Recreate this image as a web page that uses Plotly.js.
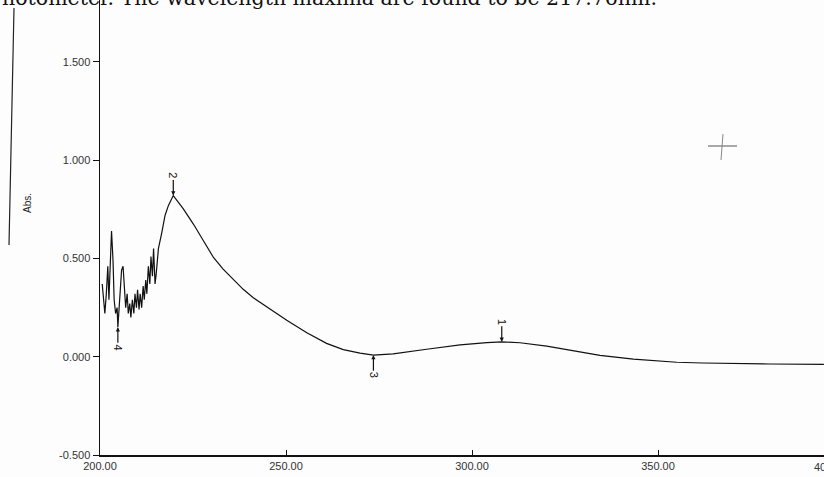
<!DOCTYPE html>
<html>
<head>
<meta charset="utf-8">
<script src="https://cdn.plot.ly/plotly-3.0.1.min.js"></script>
<style>html,body{margin:0;padding:0;background:#fdfdfd;overflow:hidden;}#chart{width:880px;height:477px;}</style>
</head>
<body>
<div id="chart"></div>
<script>
// Wavelength (nm)
const wavelength = [200.6, 201.0, 201.3, 201.7, 202.1, 202.4, 202.8, 203.1, 203.5, 203.8, 204.2, 204.6, 204.8, 205.1, 205.5, 205.8, 206.2, 206.5, 206.9, 207.3, 207.6, 208.0, 208.3, 208.7, 209.1, 209.4, 209.8, 210.1, 210.5, 210.8, 211.2, 211.6, 211.9, 212.3, 212.6, 213.0, 213.4, 213.7, 214.1, 214.4, 214.8, 215.1, 215.7, 216.6, 217.5, 218.4, 219.7, 222.4, 225.1, 227.8, 230.5, 233.1, 235.8, 238.5, 241.2, 245.7, 250.2, 255.6, 260.9, 265.4, 269.9, 273.5, 278.8, 287.8, 296.8, 304.0, 308.0, 312.9, 320.1, 325.5, 331.0, 334.4, 343.4, 349.6, 355.0, 362.0, 370.2, 380.0, 394.6];
// Absorbance
const absorbance = [0.37, 0.30, 0.22, 0.32, 0.46, 0.29, 0.46, 0.64, 0.49, 0.29, 0.22, 0.25, 0.15, 0.25, 0.32, 0.44, 0.46, 0.34, 0.25, 0.32, 0.22, 0.27, 0.20, 0.29, 0.22, 0.32, 0.25, 0.34, 0.24, 0.32, 0.25, 0.36, 0.29, 0.39, 0.32, 0.46, 0.37, 0.51, 0.41, 0.55, 0.37, 0.42, 0.55, 0.63, 0.72, 0.77, 0.82, 0.752, 0.675, 0.59, 0.505, 0.446, 0.394, 0.343, 0.30, 0.241, 0.186, 0.122, 0.068, 0.036, 0.018, 0.008, 0.015, 0.038, 0.060, 0.072, 0.076, 0.071, 0.054, 0.036, 0.018, 0.007, -0.012, -0.022, -0.028, -0.032, -0.035, -0.037, -0.039];
// Peak / valley picks
const peakLabels = ['1', '2', '3', '4'];
const peakWavelength = [308.0, 219.7, 273.5, 204.8];
const peakAbs = [0.076, 0.82, 0.008, 0.15];
const peakAbove = [true, true, false, false];
// Axis ticks
const xTicks = [200, 250, 300, 350];
const yTicks = [-0.5, 0, 0.5, 1.0, 1.5];
const headerText = 'hotometer. The wavelength maxima are found to be 217.76nm.';

const W = 880, H = 477, ML = 100, MB = 22;
const PW = W - ML, PH = H - MB;
const px = v => (v - ML) / PW;           // pixel -> paper x
const py = v => (PH - v) / PH;           // pixel -> paper y

const trace = {
  x: wavelength, y: absorbance, type: 'scatter', mode: 'lines',
  line: {color: '#111', width: 1.2}, hoverinfo: 'skip'
};

const sans = 'Liberation Sans, Arial, sans-serif';
const annotations = peakLabels.map((t, i) => ({
  x: peakWavelength[i], y: peakAbs[i], xref: 'x', yref: 'y',
  text: t, textangle: 90, showarrow: true,
  ax: 0, ay: peakAbove[i] ? -20 : 20,
  arrowhead: 2, arrowsize: 0.7, arrowwidth: 1.2, arrowcolor: '#111',
  font: {family: sans, size: 11, color: '#111'}
}));

annotations.push({
  xref: 'paper', yref: 'y', x: px(20), y: 0.78, text: 'Abs.', textangle: -90,
  showarrow: false, font: {family: sans, size: 10, color: '#222'}
});
annotations.push({
  xref: 'paper', yref: 'paper', x: px(812), xanchor: 'left', y: 0, yanchor: 'top', yshift: -4,
  text: '400.00', showarrow: false,
  font: {family: sans, size: 11, color: '#333'}
});
annotations.push({
  xref: 'paper', yref: 'paper', x: px(0), xanchor: 'left', y: 1, yanchor: 'bottom', yshift: -12,
  text: headerText, showarrow: false,
  font: {family: 'DejaVu Serif, serif', size: 20.5, color: '#111'}
});

const layout = {
  width: W, height: H,
  margin: {l: ML, r: 0, t: 0, b: MB},
  paper_bgcolor: '#fdfdfd', plot_bgcolor: '#fdfdfd',
  showlegend: false,
  font: {family: sans, size: 11, color: '#333'},
  xaxis: {
    range: [200, 200 + PW / 3.72], tickvals: xTicks, ticktext: xTicks.map(v => v.toFixed(2)),
    ticks: 'inside', ticklen: 5, tickwidth: 1, tickcolor: '#111',
    showline: true, linecolor: '#111', linewidth: 1.5,
    showgrid: false, zeroline: false, fixedrange: true
  },
  yaxis: {
    range: [-0.5, 1.815], tickvals: yTicks, ticktext: yTicks.map(v => v.toFixed(3)),
    ticks: 'outside', ticklen: 6, tickwidth: 1, tickcolor: '#111',
    showline: true, linecolor: '#111', linewidth: 1.5,
    showgrid: false, zeroline: false, fixedrange: true
  },
  shapes: [
    {type: 'line', xref: 'paper', yref: 'paper', x0: px(14), y0: py(8), x1: px(9), y1: py(245),
     line: {color: '#222', width: 1.2}},
    {type: 'line', xref: 'paper', yref: 'paper', x0: px(708), y0: py(146), x1: px(737), y1: py(146),
     line: {color: '#555', width: 1}},
    {type: 'line', xref: 'paper', yref: 'paper', x0: px(723), y0: py(134), x1: px(721), y1: py(160),
     line: {color: '#888', width: 1}}
  ],
  annotations: annotations
};

Plotly.newPlot('chart', [trace], layout, {staticPlot: true, displayModeBar: false});
</script>
</body>
</html>
